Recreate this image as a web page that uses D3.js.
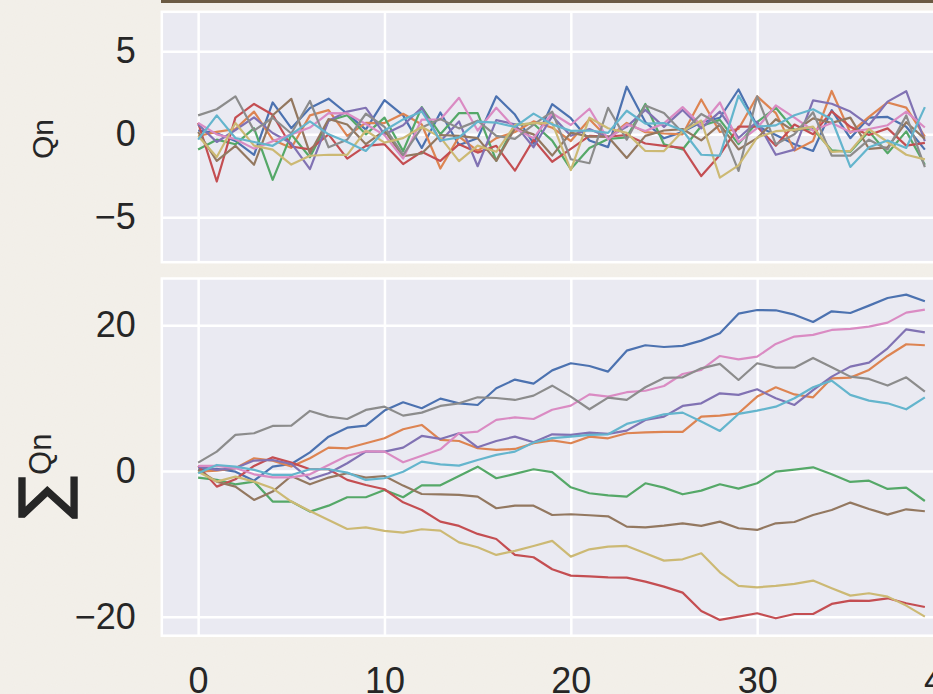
<!DOCTYPE html>
<html>
<head>
<meta charset="utf-8">
<script src="https://cdn.jsdelivr.net/npm/d3@7"></script>
<style>
body { margin: 0; background: #f3f0ea; }
svg { display: block; font-family: "Liberation Sans", Arial, sans-serif; }
</style>
</head>
<body>
<svg id="chart" width="933" height="694"></svg>
<script>
// steps along the x axis
var steps = d3.range(40);
var xTicks = [0, 10, 20, 30, 40];
var yTicksTop = [-5, 0, 5];
var yTicksBottom = [-20, 0, 20];

// running sums of Qn (one array per line)
var sumBlue = [0.23, 0.3, -0.1, -1.33, 0.59, 0.96, 2.55, 4.7, 5.94, 6.22, 8.28, 9.42, 8.6, 9.92, 9.28, 9.05, 11.34, 12.53, 11.98, 13.8, 14.77, 14.4, 13.63, 16.5, 17.24, 17.0, 17.15, 17.88, 18.88, 21.58, 22.08, 22.04, 21.44, 20.44, 21.9, 21.67, 22.68, 23.73, 24.19, 23.27];
var sumOrange = [-0.1, 0.05, 0.37, 1.74, 1.42, 0.6, 1.74, 3.2, 3.11, 3.8, 4.48, 5.72, 6.31, 4.25, 4.11, 3.11, 2.88, 3.02, 3.8, 4.2, 3.8, 4.71, 4.48, 5.17, 5.3, 5.35, 5.35, 7.45, 7.59, 7.91, 10.2, 11.48, 10.5, 10.1, 12.71, 12.8, 13.85, 15.77, 17.38, 17.24];
var sumGreen = [-0.91, -1.23, -1.83, -1.46, -4.2, -4.2, -5.58, -4.76, -3.61, -3.61, -2.6, -3.61, -1.97, -1.97, -0.69, 0.59, -1.0, -0.41, 0.23, -0.15, -2.24, -3.06, -3.34, -3.52, -1.69, -2.29, -3.2, -2.7, -1.83, -2.42, -1.69, -0.09, 0.18, 0.5, -0.46, -1.51, -1.33, -2.47, -2.29, -4.12];
var sumRed = [0.69, -2.15, -1.14, 0.69, 1.87, 1.14, 0.23, 0.23, -1.23, -1.92, -2.51, -4.3, -5.35, -6.95, -7.54, -8.64, -9.33, -11.52, -11.84, -13.49, -14.36, -14.45, -14.59, -14.63, -15.18, -15.87, -16.69, -19.2, -20.44, -19.98, -19.52, -20.21, -19.62, -19.62, -18.24, -17.79, -17.83, -17.47, -18.15, -18.66];
var sumPurple = [0.6, 0.14, 0.4, 1.42, 1.5, 0.96, -1.14, -0.32, 1.05, 2.65, 2.65, 3.2, 4.8, 4.39, 5.17, 3.25, 4.11, 4.71, 3.93, 5.03, 4.94, 5.26, 5.08, 5.53, 7.0, 7.45, 8.92, 9.28, 10.65, 10.43, 11.2, 9.97, 9.05, 11.1, 12.94, 14.31, 14.86, 16.83, 19.43, 19.02];
var sumBrown = [0.14, -1.46, -2.15, -3.98, -2.83, -0.69, -1.83, -0.91, -0.32, -0.91, -0.69, -2.01, -3.16, -3.2, -3.29, -3.52, -5.12, -4.76, -4.76, -6.04, -5.94, -6.08, -6.22, -7.64, -7.73, -7.5, -7.18, -7.54, -6.95, -7.86, -8.09, -7.18, -7.0, -6.04, -5.35, -4.34, -5.21, -5.99, -5.26, -5.53];
var sumPink = [0.69, 0.69, 0.4, -0.46, -0.87, -0.87, -0.46, 0.82, 2.08, 2.7, 2.65, 1.19, 2.08, 2.97, 5.17, 5.4, 7.0, 7.36, 7.13, 8.4, 8.96, 10.5, 10.2, 10.8, 11.0, 11.66, 13.3, 13.85, 15.77, 15.3, 15.68, 17.42, 18.43, 18.66, 19.34, 19.48, 19.8, 20.35, 21.72, 22.13];
var sumGray = [1.14, 2.65, 4.94, 5.17, 6.17, 6.22, 8.23, 7.45, 7.13, 8.37, 8.82, 7.59, 8.0, 8.92, 9.28, 10.1, 10.01, 9.74, 10.33, 11.7, 10.2, 8.46, 10.06, 9.74, 11.48, 12.76, 12.85, 14.08, 14.68, 12.48, 14.77, 14.17, 14.17, 15.5, 14.22, 12.94, 12.62, 11.71, 12.85, 10.88];
var sumOlive = [-0.1, -1.46, -0.78, -1.46, -2.38, -4.2, -5.49, -6.72, -7.96, -7.73, -8.23, -8.46, -8.0, -8.18, -9.79, -10.47, -11.52, -10.97, -10.29, -9.6, -11.75, -10.75, -10.38, -10.29, -11.29, -12.3, -12.12, -11.29, -13.9, -15.77, -15.96, -15.77, -15.5, -15.04, -16.1, -17.1, -16.78, -17.24, -18.47, -19.98];
var sumCyan = [-0.32, 0.82, 0.6, 0.14, -0.55, -0.55, 0.23, 0.23, -0.23, -1.23, -1.0, -0.1, 1.28, 0.91, 0.73, 1.5, 2.2, 2.65, 3.9, 4.5, 4.71, 4.94, 5.03, 6.45, 7.09, 7.77, 8.0, 6.77, 5.49, 7.82, 8.28, 8.82, 9.97, 11.48, 12.39, 10.43, 9.65, 9.28, 8.46, 10.1];

var colors = ["#4c72b0", "#dd8452", "#55a868", "#c44e52", "#8172b3", "#937860", "#da8bc3", "#8c8c8c", "#ccb974", "#64b5cd"];

var sums = [sumBlue, sumOrange, sumGreen, sumRed, sumPurple, sumBrown, sumPink, sumGray, sumOlive, sumCyan];
// Qn is the step between two running sums
var qn = sums.map(function(s) {
    return s.map(function(v, i) { return i == 0 ? v : v - s[i - 1]; });
});

var width = 933, height = 694;
var svg = d3.select("#chart");

// paper background
var defs = svg.append("defs");
var paper = defs.append("filter").attr("id", "paper");
paper.append("feTurbulence").attr("type", "fractalNoise").attr("baseFrequency", 0.9).attr("numOctaves", 2).attr("seed", 3);
paper.append("feColorMatrix").attr("values", "0 0 0 0 0.55  0 0 0 0 0.48  0 0 0 0 0.4  0 0 0 0.04 0");

svg.append("rect").attr("width", width).attr("height", height).attr("fill", "#f3f0ea");
svg.append("rect").attr("width", width).attr("height", height).attr("filter", "url(#paper)");

// dark strip along the top edge
svg.append("rect")
    .attr("x", 161).attr("y", 0)
    .attr("width", width - 161).attr("height", 3)
    .attr("fill", "#6b5a42");

var left = 161.8, right = 961.2;
var x = d3.scaleLinear().domain([-1.95, 40.95]).range([left, right]);

var yTop = d3.scaleLinear().domain([-7.7, 7.38]).range([262.2, 11.8]);
var yBottom = d3.scaleLinear().domain([-22.6, 26.4]).range([635.7, 278.5]);

function drawPanel(y, yTicks, data, showX) {
    var top = y.range()[1], bottom = y.range()[0];
    var g = svg.append("g");

    g.append("rect")
        .attr("x", left).attr("y", top)
        .attr("width", right - left).attr("height", bottom - top)
        .attr("fill", "#eaeaf2");

    // grid
    g.append("g")
        .attr("transform", "translate(0," + bottom + ")")
        .call(d3.axisBottom(x).tickValues(xTicks).tickSize(-(bottom - top)).tickFormat(""))
        .call(function(a) { a.select(".domain").remove(); })
        .selectAll("line").attr("stroke", "#fff").attr("stroke-width", 2.5);
    g.append("g")
        .attr("transform", "translate(" + left + ",0)")
        .call(d3.axisLeft(y).tickValues(yTicks).tickSize(-(right - left)).tickFormat(""))
        .call(function(a) { a.select(".domain").remove(); })
        .selectAll("line").attr("stroke", "#fff").attr("stroke-width", 2.5);

    var line = d3.line()
        .x(function(d, i) { return x(steps[i]); })
        .y(function(d) { return y(d); });

    g.selectAll("path.series")
        .data(data)
        .enter().append("path")
        .attr("class", "series")
        .attr("fill", "none")
        .attr("stroke", function(d, i) { return colors[i]; })
        .attr("stroke-width", 2.2)
        .attr("stroke-linejoin", "round")
        .attr("d", line);

    // white frame
    g.append("rect")
        .attr("x", left).attr("y", top)
        .attr("width", right - left).attr("height", bottom - top)
        .attr("fill", "none").attr("stroke", "#fff").attr("stroke-width", 2.5);

    // tick labels
    var ya = g.append("g")
        .attr("transform", "translate(" + left + ",0)")
        .call(d3.axisLeft(y).tickValues(yTicks).tickSize(0).tickPadding(26)
            .tickFormat(function(d) { return d < 0 ? "\u2212" + Math.abs(d) : d; }));
    ya.select(".domain").remove();
    ya.selectAll("text").attr("font-size", 36).attr("font-family", "Liberation Sans, Arial, sans-serif").attr("fill", "#262626");

    if (showX) {
        var xa = g.append("g")
            .attr("transform", "translate(0," + bottom + ")")
            .call(d3.axisBottom(x).tickValues(xTicks).tickSize(0).tickPadding(32));
        xa.select(".domain").remove();
        xa.selectAll("text").attr("font-size", 36).attr("font-family", "Liberation Sans, Arial, sans-serif").attr("fill", "#262626");
    }
}

drawPanel(yTop, yTicksTop, qn, false);
drawPanel(yBottom, yTicksBottom, sums, true);

// axis labels
svg.append("text")
    .attr("transform", "translate(53,139) rotate(-90)")
    .attr("text-anchor", "middle")
    .attr("font-size", 30)
    .attr("fill", "#262626")
    .text("Qn");

var sumLabel = svg.append("text")
    .attr("transform", "translate(65,519) rotate(-90)")
    .attr("fill", "#262626")
    .attr("font-family", "DejaVu Sans, sans-serif");
sumLabel.append("tspan").attr("font-size", 64)
    .attr("stroke", "#262626").attr("stroke-width", 1.3)
    .text("\u2211");
sumLabel.append("tspan").attr("font-size", 31).attr("font-family", "Liberation Sans, Arial, sans-serif")
    .attr("dx", 1).attr("dy", -14).text("Qn");
</script>
</body>
</html>
